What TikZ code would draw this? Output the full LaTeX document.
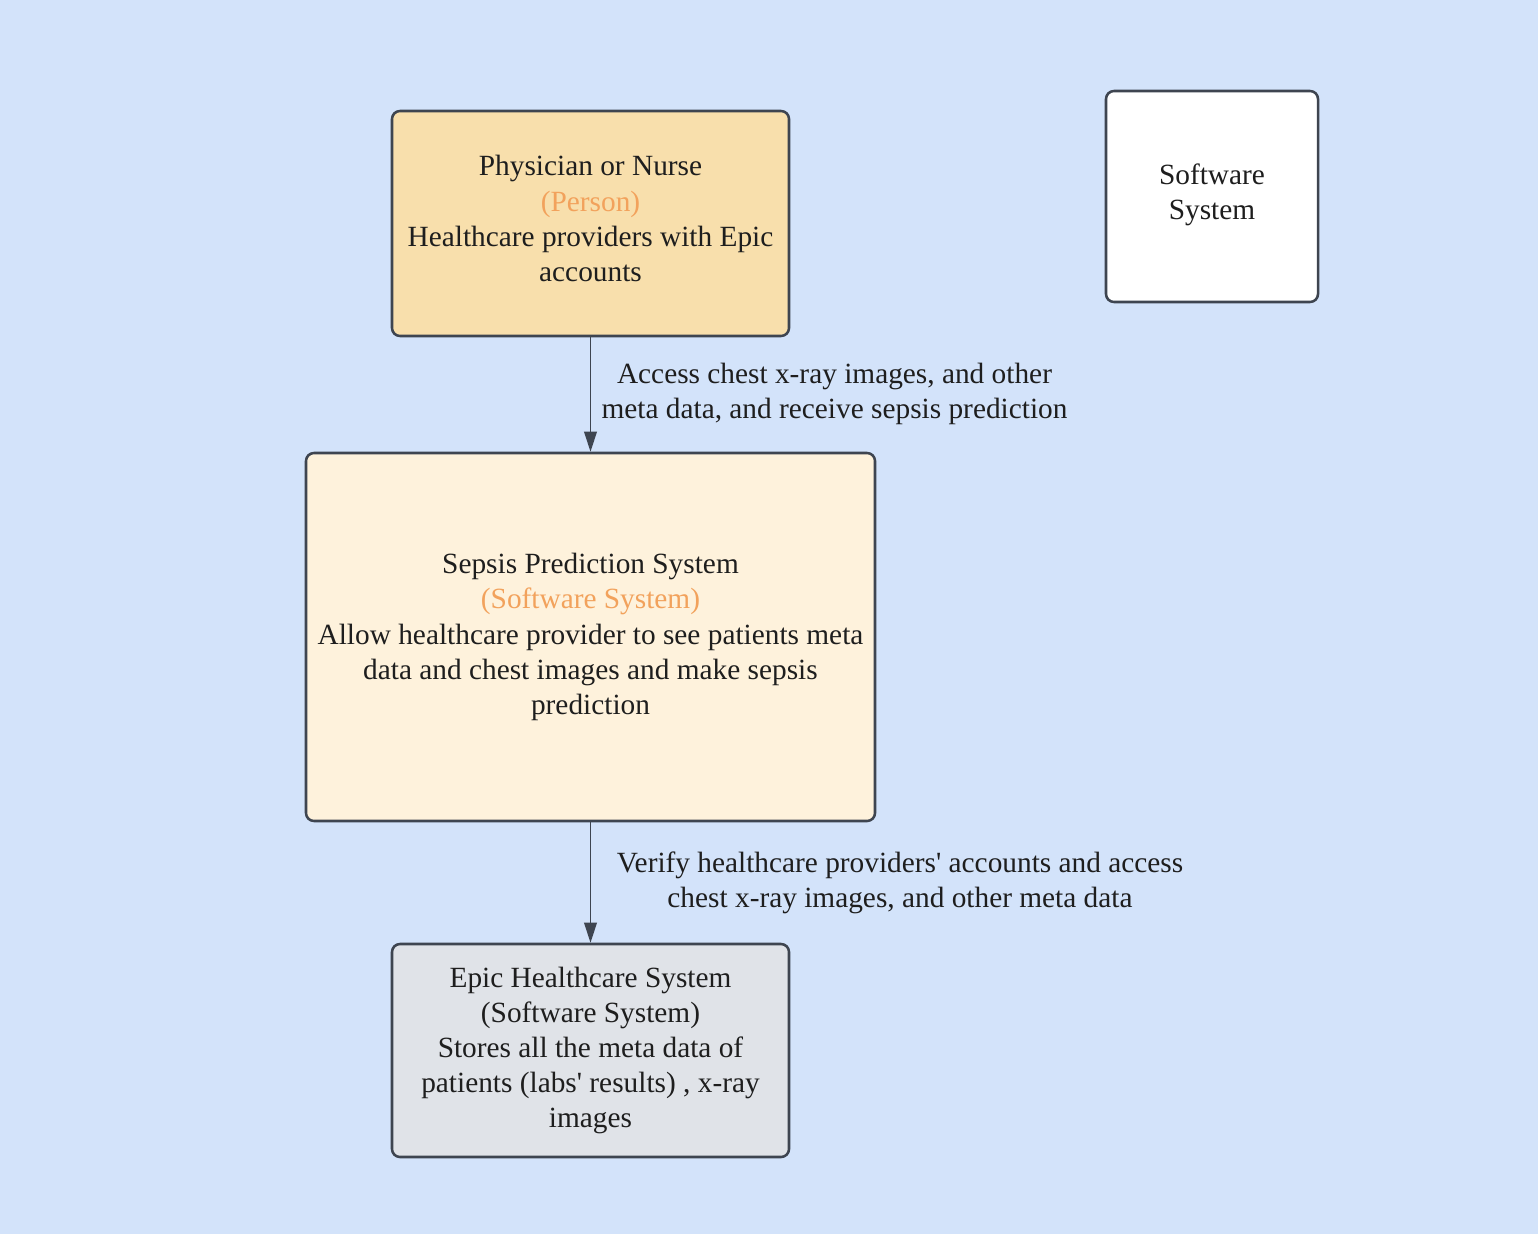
\documentclass[tikz,border=0pt]{standalone}
\usepackage{fontspec}
\setmainfont{Liberation Serif}[Ligatures=TeXOff]
\usetikzlibrary{arrows.meta}
\definecolor{bg}{HTML}{D3E3FA}
\definecolor{edge}{HTML}{3E4550}
\definecolor{txt}{HTML}{1E1E1E}
\definecolor{orangetxt}{HTML}{F2A25C}
\definecolor{personfill}{HTML}{F8DFAC}
\definecolor{sysfill}{HTML}{FEF2DC}
\definecolor{epicfill}{HTML}{E0E3E8}
\tikzset{
  box/.style={draw=edge, line width=1.9pt, rounded corners=6pt, align=center,
    text=txt, font=\fontsize{22pt}{26.4pt}\selectfont, inner sep=0pt},
  lbl/.style={align=center, text=txt, font=\fontsize{22pt}{26.4pt}\selectfont, inner sep=0pt},
  conn/.style={draw=edge, line width=1.1pt, -{Triangle[length=15pt,width=9.5pt]}},
}
\begin{document}
\begin{tikzpicture}[x=0.75pt,y=-0.75pt]
\fill[bg] (0,0) rectangle (1538,1234);
\useasboundingbox (0,0) rectangle (1538,1234);
\node[box, fill=personfill, minimum width=397*0.75pt, minimum height=225*0.75pt] (person) at (590.5,223.5)
  {Physician or Nurse\\ \textcolor{orangetxt}{(Person)}\\ Healthcare providers with Epic\\ accounts\rule[-7.5pt]{0pt}{0pt}};
\node[box, fill=sysfill, minimum width=569*0.75pt, minimum height=368*0.75pt] (sepsis) at (590.5,637)
  {Sepsis Prediction System\\ \textcolor{orangetxt}{(Software System)}\\ Allow healthcare provider to see patients meta\\ data and chest images and make sepsis\\ prediction};
\node[box, fill=epicfill, minimum width=397*0.75pt, minimum height=213*0.75pt] (epic) at (590.5,1050.5)
  {Epic Healthcare System\\ (Software System)\\ Stores all the meta data of\\ patients (labs' results) , x-ray\\ images};
\node[box, fill=white, minimum width=212*0.75pt, minimum height=211*0.75pt] (legend) at (1212,196.5)
  {Software\\ System\rule[-7.8pt]{0pt}{0pt}};
\draw[conn] (person.south) -- (sepsis.north);
\draw[conn] (sepsis.south) -- (epic.north);
\node[lbl] (l1) at (834.5,394) {Access chest x-ray images, and other\\ meta data, and receive sepsis prediction};
\node[lbl] (l2) at (900,882.5) {Verify healthcare providers' accounts and access\\ chest x-ray images, and other meta data};
\end{tikzpicture}
\end{document}
